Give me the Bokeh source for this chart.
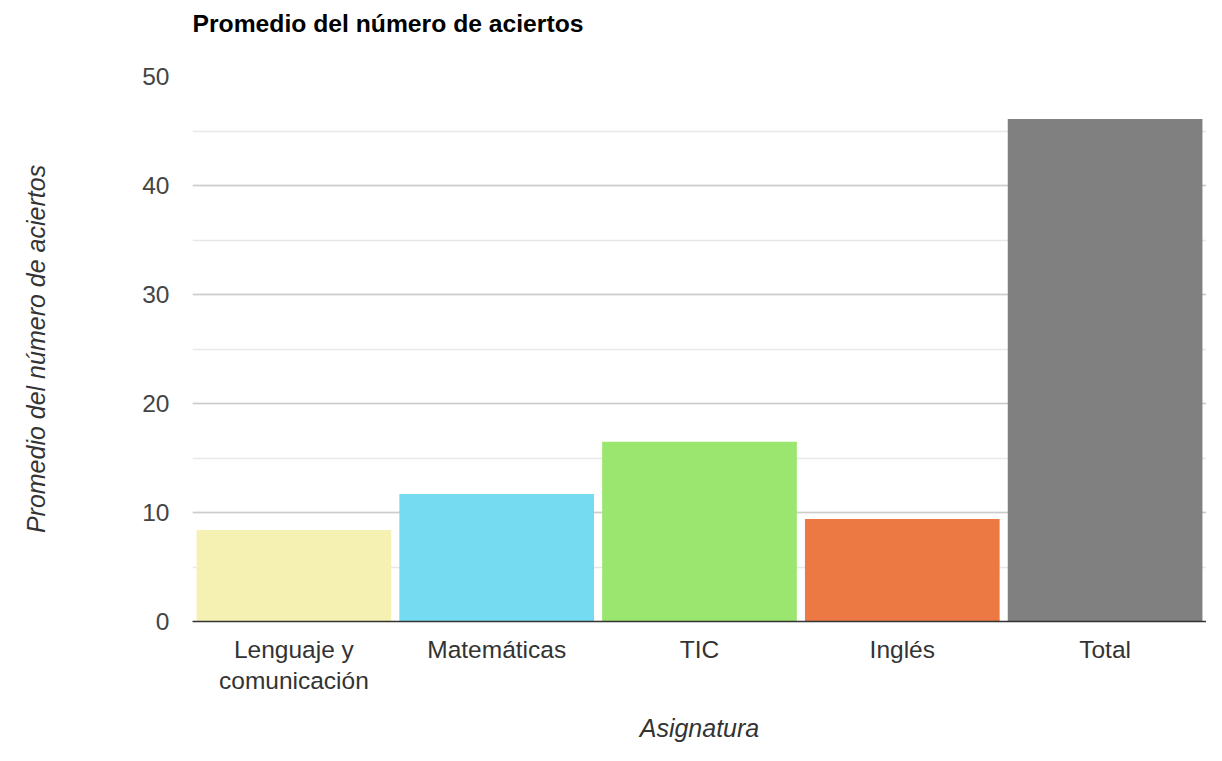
from bokeh.plotting import figure
from bokeh.models import ColumnDataSource, Range1d, SingleIntervalTicker, Title
from bokeh.embed import file_html
from bokeh.resources import INLINE

categories = ["Lenguaje y\ncomunicación", "Matemáticas", "TIC", "Inglés", "Total"]
values = [8.4, 11.7, 16.5, 9.4, 46.1]
colors = ["#F5F1B3", "#74DBF0", "#9AE66E", "#EC7843", "#808080"]
y_ticks_interval = 10
title_text = "Promedio del número de aciertos"

source = ColumnDataSource(dict(cat=categories, val=values, color=colors))

FONT = "Liberation Sans"

p = figure(
    x_range=categories,
    y_range=Range1d(0, 50),
    width=1206,
    height=745,
    output_backend="svg",
    toolbar_location=None,
    title=None,
    min_border_left=192,
    min_border_right=0,
    min_border_top=76,
    min_border_bottom=122,
)
p.outline_line_color = None

p.vbar(x="cat", top="val", width=0.96, color="color", line_color=None, source=source)

# spacer panel between the plotting area and the title (closest to frame)
spacer = Title(text=" ", text_font_size="1px", standoff=37)
p.add_layout(spacer, "above")
# main title (further out)
main_title = Title(
    text=title_text, text_font=FONT, text_font_size="24.7px",
    text_font_style="bold", text_color="#000000", align="left",
    standoff=0, offset=0,
)
p.add_layout(main_title, "above")

# y axis
p.yaxis.ticker = SingleIntervalTicker(interval=y_ticks_interval, num_minor_ticks=2)
p.yaxis.axis_line_color = None
p.yaxis.major_tick_line_color = None
p.yaxis.minor_tick_line_color = None
p.yaxis.major_tick_in = 0
p.yaxis.major_tick_out = 0
p.yaxis.major_label_standoff = 19
p.yaxis.major_label_text_font = FONT
p.yaxis.major_label_text_font_size = "24.5px"
p.yaxis.major_label_text_color = "#444444"
p.yaxis.axis_label = "Promedio del número de aciertos"
p.yaxis.axis_label_text_font = FONT
p.yaxis.axis_label_text_font_size = "25px"
p.yaxis.axis_label_text_font_style = "italic"
p.yaxis.axis_label_text_color = "#333333"
p.yaxis.axis_label_standoff = 89

# x axis
p.xaxis.axis_line_color = "#333333"
p.xaxis.axis_line_width = 1.5
p.xaxis.major_tick_line_color = None
p.xaxis.minor_tick_line_color = None
p.xaxis.major_tick_in = 0
p.xaxis.major_tick_out = 0
p.xaxis.major_label_standoff = 14
p.xaxis.major_label_text_font = FONT
p.xaxis.major_label_text_font_size = "24.5px"
p.xaxis.major_label_text_color = "#333333"
p.xaxis.major_label_text_line_height = 1.18
p.xaxis.axis_label = "Asignatura"
p.xaxis.axis_label_text_font = FONT
p.xaxis.axis_label_text_font_size = "25px"
p.xaxis.axis_label_text_font_style = "italic"
p.xaxis.axis_label_text_color = "#333333"
p.xaxis.axis_label_standoff = 17

# grids
p.xgrid.grid_line_color = None
p.ygrid.grid_line_color = "#cccccc"
p.ygrid.grid_line_width = 1.5
p.ygrid.minor_grid_line_color = "#e8e8e8"
p.ygrid.minor_grid_line_width = 1.5

open("out.html", "w").write(file_html(p, INLINE))
